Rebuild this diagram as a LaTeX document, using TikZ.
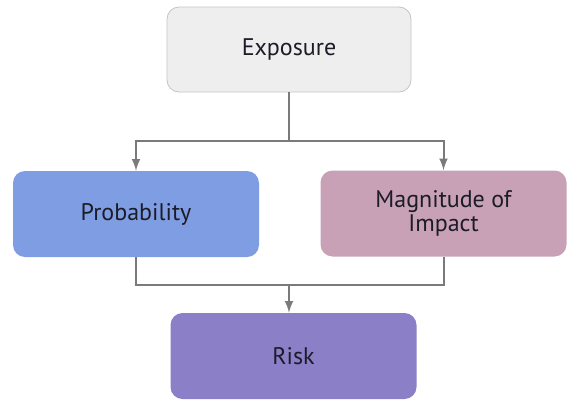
\documentclass[tikz,border=0pt]{standalone}
\usepackage{fontspec}
\setmainfont{PT Sans}
\usetikzlibrary{arrows}
\usetikzlibrary{calc,positioning}
\definecolor{expofill}{HTML}{EEEEEE}
\definecolor{expodraw}{HTML}{C4C4C4}
\definecolor{probfill}{HTML}{7F9DE2}
\definecolor{magnfill}{HTML}{C9A1B7}
\definecolor{riskfill}{HTML}{8B7FC7}
\definecolor{wire}{HTML}{7A7A7A}
\definecolor{ink}{HTML}{1C1C28}

\begin{document}
\begin{tikzpicture}[x=0.5pt,y=-0.5pt,
    box/.style={rounded corners=6pt, minimum width=123pt, minimum height=43pt,
        align=center, text=ink, font=\fontsize{12}{12}\selectfont},
    wire/.style={draw=wire, line width=1pt}]
    \useasboundingbox (0,0) rectangle (568,402);
    \node[box, fill=expofill, draw=expodraw, minimum width=122pt, minimum height=42.5pt] (expo) at (289,49.5) {Exposure};
    \node[box, fill=probfill] (prob) at (136,214) {Probability};
    \node[box, fill=magnfill] (magn) at (443.5,213.5) {Magnitude of\\Impact};
    \node[box, fill=riskfill] (risk) at (293.5,356) {Risk};

    \coordinate (split) at (289,141);
    \coordinate (merge) at (289,285);
    \draw[wire] (expo) -- (split);
    \draw[wire, -latex] (split) -| (prob);
    \draw[wire, -latex] (split) -| (magn);
    \draw[wire] (prob) |- (merge);
    \draw[wire] (magn) |- (merge);
    \draw[wire, -latex] (merge) -- (merge |- risk.north);
\end{tikzpicture}
\end{document}
